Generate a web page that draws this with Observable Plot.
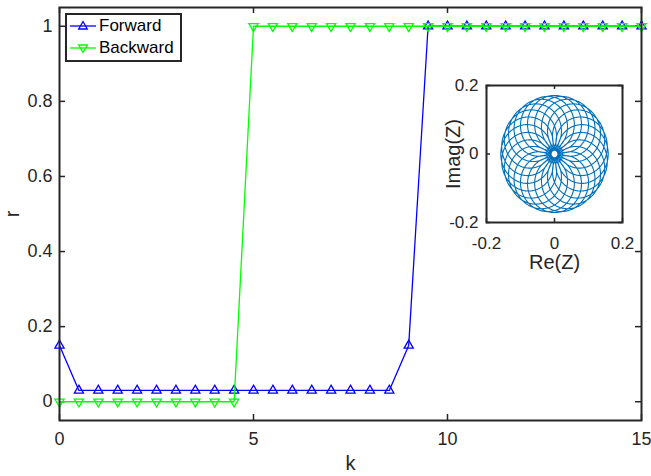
<!DOCTYPE html>
<html>
<head>
<meta charset="utf-8">
<script src="https://cdn.jsdelivr.net/npm/d3@7"></script>
<script src="https://cdn.jsdelivr.net/npm/@observablehq/plot@0.6"></script>
<style>
  html, body { margin: 0; padding: 0; background: #fff; }
  body { width: 651px; height: 476px; position: relative; overflow: hidden; font-family: "Liberation Sans", Arial, sans-serif; }
  #main, #inset { position: absolute; }
  #main { left: 0; top: 0; }
  #inset { left: 430px; top: 70px; }
  #legend { position: absolute; left: 65px; top: 13px; width: 113px; height: 45px; border: 2px solid #262626; background: #fff; font-size: 17px; color: #000; }
  .row { position: absolute; left: 2px; height: 20px; display: flex; align-items: center; }
  .row svg { display: block; }
  .row span { margin-left: 2px; }
</style>
</head>
<body>
<div id="main"></div>
<div id="inset"></div>
<div id="legend">
  <div class="row" style="top:1px"><svg width="28" height="20"><line x1="1" y1="10" x2="27" y2="10" stroke="#0000ff" stroke-width="1.3"/><path d="M14,5.5 L18.3,13 L9.7,13 Z" fill="none" stroke="#0000ff" stroke-width="1.3"/></svg><span>Forward</span></div>
  <div class="row" style="top:23px"><svg width="28" height="20"><line x1="1" y1="10" x2="27" y2="10" stroke="#00ff00" stroke-width="1.3"/><path d="M14,14.5 L18.3,7 L9.7,7 Z" fill="none" stroke="#00ff00" stroke-width="1.3"/></svg><span>Backward</span></div>
</div>
<script>
// ---- data ----
const k = [0, 0.5, 1, 1.5, 2, 2.5, 3, 3.5, 4, 4.5, 5, 5.5, 6, 6.5, 7, 7.5, 8, 8.5, 9, 9.5, 10, 10.5, 11, 11.5, 12, 12.5, 13, 13.5, 14, 14.5, 15];
const forward = [0.15, 0.03, 0.03, 0.03, 0.03, 0.03, 0.03, 0.03, 0.03, 0.03, 0.03, 0.03, 0.03, 0.03, 0.03, 0.03, 0.03, 0.03, 0.15, 1, 1, 1, 1, 1, 1, 1, 1, 1, 1, 1, 1];
const backward = [0, 0, 0, 0, 0, 0, 0, 0, 0, 0, 1, 1, 1, 1, 1, 1, 1, 1, 1, 1, 1, 1, 1, 1, 1, 1, 1, 1, 1, 1, 1];
const xTicks = [0, 5, 10, 15];
const yTicks = [0, 0.2, 0.4, 0.6, 0.8, 1];
const insetTicks = [-0.2, 0, 0.2];
// inset trajectory (epicycle approximation)
const orbitRx = 0.084, orbitRy = 0.091;   // radius of loop centres
const loopRx = 0.074, loopRy = 0.080;     // radius of each loop
const loopCount = 24;

const rows = k.map((kk, i) => ({k: kk, f: forward[i], b: backward[i]}));

const axisColor = "#262626";
const font = "'Liberation Sans', Arial, sans-serif";
const fmt = d => String(d);

// main axes
const mainW = 651, mainH = 476, mL = 59, mR = 10, mT = 7, mB = 56;
const innerW = mainW - mL - mR, innerH = mainH - mT - mB;
const tick = 6;

const main = Plot.plot({
  width: mainW, height: mainH,
  marginLeft: mL, marginRight: mR, marginTop: mT, marginBottom: mB,
  style: {fontFamily: font, fontSize: "18px", color: axisColor, background: "transparent"},
  x: {domain: [0, 15]},
  y: {domain: [-0.05, 1.05]},
  marks: [
    Plot.axisX({ticks: xTicks, tickSize: 0, tickPadding: 12, tickFormat: fmt, fontSize: 18, label: null}),
    Plot.axisY({ticks: yTicks, tickSize: 0, tickPadding: 7, tickFormat: fmt, fontSize: 18, label: null}),
    Plot.text(["k"], {frameAnchor: "bottom", textAnchor: "middle", lineAnchor: "middle", dy: 43, fontSize: 20, fill: axisColor}),
    Plot.text(["r"], {frameAnchor: "left", textAnchor: "middle", lineAnchor: "middle", dx: -47, rotate: -90, fontSize: 20, fill: axisColor}),
    Plot.tickX(xTicks, {insetTop: innerH - tick, stroke: axisColor, strokeWidth: 1.5}),
    Plot.tickX(xTicks, {insetBottom: innerH - tick, stroke: axisColor, strokeWidth: 1.5}),
    Plot.tickY(yTicks, {insetRight: innerW - tick, stroke: axisColor, strokeWidth: 1.5}),
    Plot.tickY(yTicks, {insetLeft: innerW - tick, stroke: axisColor, strokeWidth: 1.5}),
    Plot.line(rows, {x: "k", y: "f", stroke: "#0000ff", strokeWidth: 1.3}),
    Plot.dot(rows, {x: "k", y: "f", symbol: "triangle", r: 3.4, stroke: "#0000ff", strokeWidth: 1.3, fill: "none"}),
    Plot.line(rows, {x: "k", y: "b", stroke: "#00ff00", strokeWidth: 1.3}),
    Plot.dot(rows, {x: "k", y: "b", symbol: "triangle", rotate: 180, r: 3.4, stroke: "#00ff00", strokeWidth: 1.3, fill: "none"}),
    Plot.frame({stroke: axisColor, strokeWidth: 2})
  ]
});
document.getElementById("main").appendChild(main);

const steps = 8000;
const traj = d3.range(steps + 1).map(i => {
  const t = 2 * Math.PI * i / steps;
  return {
    re: orbitRx * Math.cos(t) + loopRx * Math.cos((loopCount + 1) * t),
    im: orbitRy * Math.sin(t) + loopRy * Math.sin((loopCount + 1) * t)
  };
});

// inset axes
const iW = 200, iH = 210, iL = 56, iR = 8, iT = 15, iB = 58;
const iInnerW = iW - iL - iR, iInnerH = iH - iT - iB;
const iTick = 4;

const inset = Plot.plot({
  width: iW, height: iH,
  marginLeft: iL, marginRight: iR, marginTop: iT, marginBottom: iB,
  style: {fontFamily: font, fontSize: "17px", color: axisColor, background: "transparent", overflow: "visible"},
  x: {domain: [-0.2, 0.2]},
  y: {domain: [-0.2, 0.2]},
  marks: [
    Plot.frame({fill: "#fff", stroke: "none"}),
    Plot.axisX({ticks: insetTicks, tickSize: 0, tickPadding: 14, tickFormat: fmt, fontSize: 17, label: null}),
    Plot.axisY({ticks: insetTicks, tickSize: 0, tickPadding: 8, tickFormat: fmt, fontSize: 17, label: null}),
    Plot.text(["Re(Z)"], {frameAnchor: "bottom", textAnchor: "middle", lineAnchor: "middle", dy: 40, fontSize: 20, fill: axisColor}),
    Plot.text(["Imag(Z)"], {frameAnchor: "left", textAnchor: "middle", lineAnchor: "middle", dx: -33, rotate: -90, fontSize: 20, fill: axisColor}),
    Plot.tickX(insetTicks, {insetTop: iInnerH - iTick, stroke: axisColor, strokeWidth: 1.5}),
    Plot.tickX(insetTicks, {insetBottom: iInnerH - iTick, stroke: axisColor, strokeWidth: 1.5}),
    Plot.tickY(insetTicks, {insetRight: iInnerW - iTick, stroke: axisColor, strokeWidth: 1.5}),
    Plot.tickY(insetTicks, {insetLeft: iInnerW - iTick, stroke: axisColor, strokeWidth: 1.5}),
    Plot.line(traj, {x: "re", y: "im", stroke: "#0072bd", strokeWidth: 1.1, curve: "linear"}),
    Plot.frame({stroke: axisColor, strokeWidth: 2})
  ]
});
document.getElementById("inset").appendChild(inset);
</script>
</body>
</html>
